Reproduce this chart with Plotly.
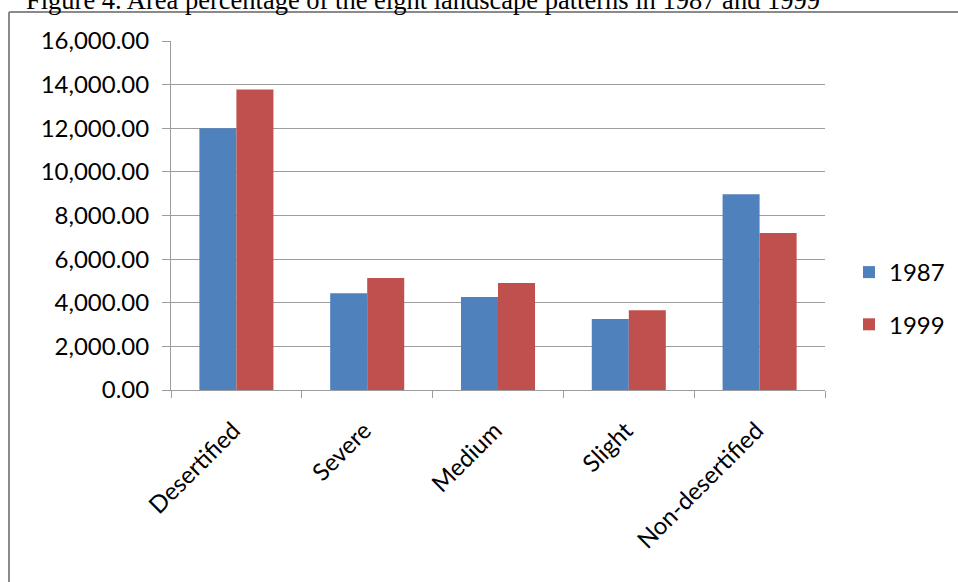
import plotly.graph_objects as go

categories = ["Desertified", "Severe", "Medium", "Slight", "Non-desertified"]
values_1987 = [12000, 4440, 4260, 3250, 8975]
values_1999 = [13780, 5130, 4900, 3660, 7200]
series_names = ["1987", "1999"]
colors = ["#4F81BD", "#C0504D"]
title_text = "Figure 4. Area percentage of the eight landscape patterns in 1987 and 1999"
y_ticks = [0, 2000, 4000, 6000, 8000, 10000, 12000, 14000, 16000]

W, H = 958, 582
L, R, T, B = 171, 133, 41, 192
PW, PH = W - L - R, H - T - B

def px_x(p):
    return (p - L) / PW

def px_y(p):
    return (H - B - p) / PH

FONT = "Lato, 'Open Sans', sans-serif"
GRID = "#9d9d9d"
FS = 24

fig = go.Figure()
for name, vals, col, grp in zip(series_names, [values_1987, values_1999], colors, ["a", "b"]):
    fig.add_trace(go.Bar(
        x=categories, y=vals, name=name, legendgroup=grp,
        marker=dict(color=col, line=dict(width=0)),
    ))

fig.update_layout(
    width=W, height=H,
    margin=dict(l=L, r=R, t=T, b=B, pad=0, autoexpand=False),
    paper_bgcolor="white", plot_bgcolor="white",
    barmode="group", bargap=0.434, bargroupgap=0,
    font=dict(family=FONT, size=FS, color="#000000"),
    showlegend=True,
    legend=dict(
        x=px_x(849), xanchor="left", y=px_y(298.5), yanchor="middle",
        traceorder="grouped", tracegroupgap=18,
        font=dict(family=FONT, size=FS, color="#000000"),
        bgcolor="rgba(0,0,0,0)",
    ),
    xaxis=dict(
        type="category", tickangle=-45, tickson="boundaries",
        ticks="outside", ticklen=7, tickcolor=GRID, tickwidth=1,
        ticklabelstandoff=16, ticklabelshift=-3,
        showline=True, linecolor=GRID, linewidth=1,
        showgrid=False, tickfont=dict(family=FONT, size=FS),
    ),
    yaxis=dict(
        range=[0, 16000], tickvals=y_ticks, tickformat=",.2f",
        ticks="outside", ticklen=8, tickcolor=GRID, tickwidth=1,
        ticklabelstandoff=8,
        showline=True, linecolor=GRID, linewidth=1,
        showgrid=True, gridcolor=GRID, gridwidth=1,
        zeroline=False, tickfont=dict(family=FONT, size=FS),
    ),
)

# outer frame (left and top edges visible)
fig.add_shape(type="line", xref="paper", yref="paper",
              x0=px_x(9), x1=px_x(9), y0=px_y(12), y1=px_y(H + 5),
              line=dict(color="#8a8a8a", width=2))
fig.add_shape(type="line", xref="paper", yref="paper",
              x0=px_x(9), x1=px_x(W + 5), y0=px_y(12), y1=px_y(12),
              line=dict(color="#8a8a8a", width=2))

fig.add_annotation(
    text=title_text, xref="paper", yref="paper",
    x=px_x(24), xanchor="left", y=px_y(0.5), yanchor="middle",
    showarrow=False,
    font=dict(family="'Liberation Serif', 'Times New Roman', serif", size=26.5, color="#000000"),
)

fig.write_html("out.html")
